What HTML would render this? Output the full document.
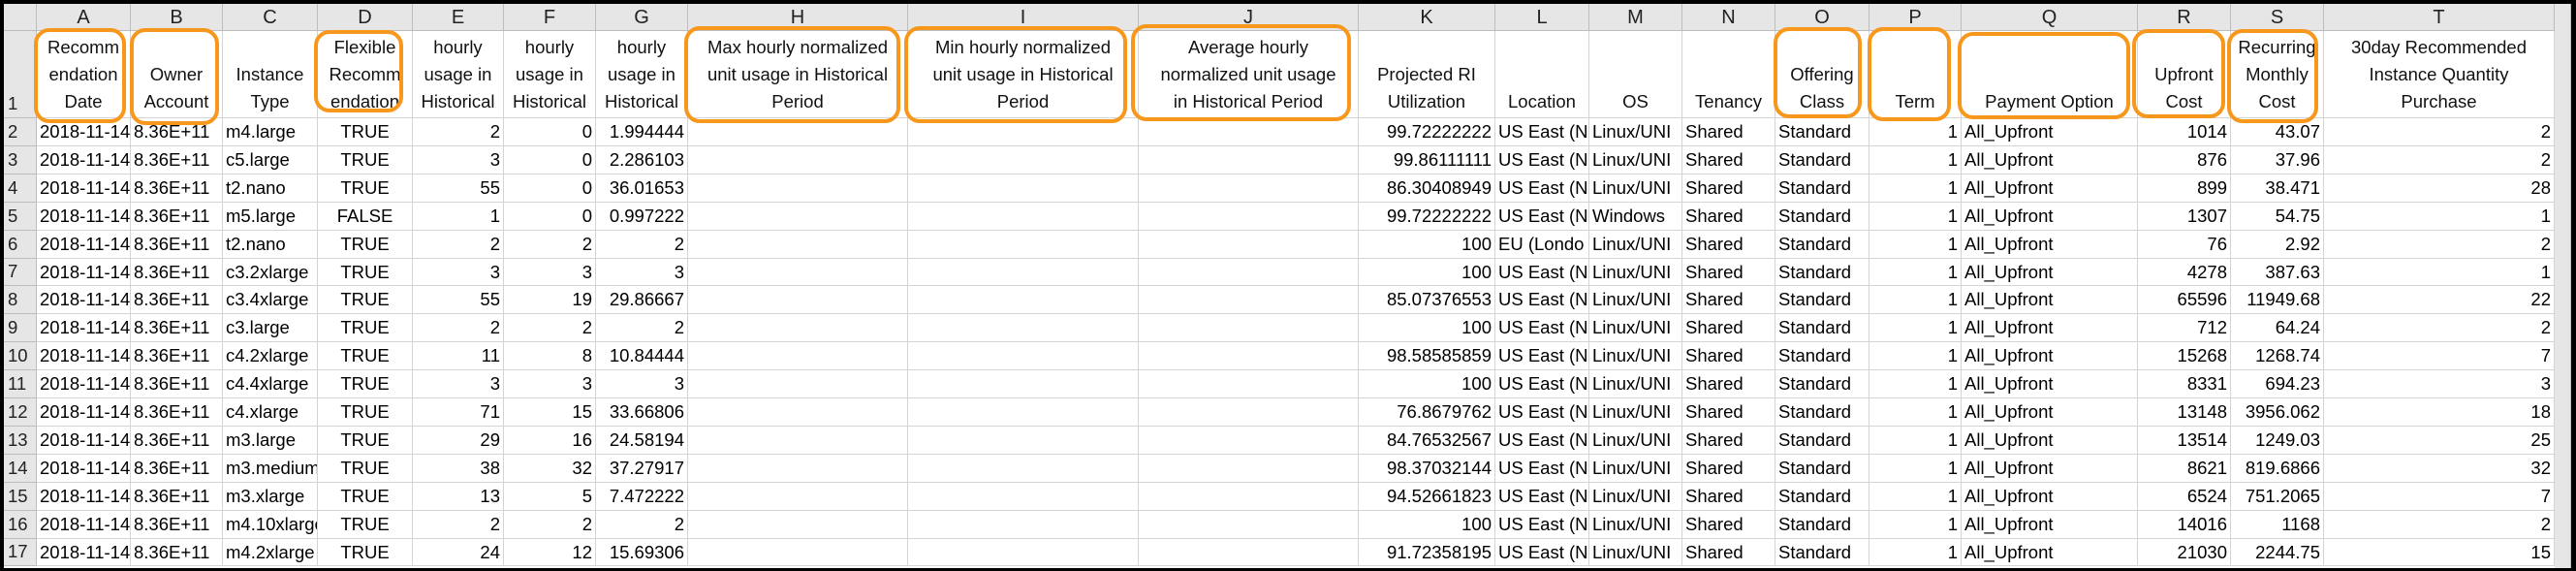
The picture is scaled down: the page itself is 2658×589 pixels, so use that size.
<!DOCTYPE html>
<html><head><meta charset="utf-8"><style>
html,body{margin:0;padding:0;}
body{width:2658px;height:589px;background:#000;position:relative;overflow:hidden;font-family:"Liberation Sans",sans-serif;}
#sheet{position:absolute;left:4px;top:4px;width:2649px;height:582px;background:#fff;overflow:hidden;}
.c{position:absolute;box-sizing:border-box;border-right:1px solid #d4d4d4;border-bottom:1px solid #d4d4d4;font-size:18.5px;color:#000;overflow:hidden;white-space:nowrap;line-height:28px;padding:0 3px;}
.ch{background:#e6e6e6;text-align:center;color:#222;border-color:#bdbdbd;font-size:20px;}
.rh{background:#e6e6e6;color:#222;border-color:#bdbdbd;padding-left:4px;}
.hd{white-space:nowrap;display:flex;align-items:flex-end;justify-content:center;text-align:center;padding-bottom:2px;color:#111;}
.hd span{display:block;}
.box{position:absolute;box-sizing:border-box;border:4px solid #f7981d;border-radius:16px;}
</style></head><body>
<div id="sheet"></div>
<script>
const colLetters=["A","B","C","D","E","F","G","H","I","J","K","L","M","N","O","P","Q","R","S","T"];
const colEdges=[34,131,226,324,422,516,611,706,933,1171,1398,1539,1636,1732,1828,1925,2020,2202,2298,2394,2632];
const colAlign=["left","left","left","center","right","right","right","right","right","right","right","left","left","left","left","right","left","right","right","right"];
const headers=["Recomm|endation|Date","Owner|Account","Instance|Type","Flexible|Recomm|endation","hourly|usage in|Historical","hourly|usage in|Historical","hourly|usage in|Historical","Max hourly normalized|unit usage in Historical|Period","Min hourly normalized|unit usage in Historical|Period","Average hourly|normalized unit usage|in Historical Period","Projected RI|Utilization","Location","OS","Tenancy","Offering|Class","Term","Payment Option","Upfront|Cost","Recurring|Monthly|Cost","30day Recommended|Instance Quantity|Purchase"];
const instTypes=["m4.large","c5.large","t2.nano","m5.large","t2.nano","c3.2xlarge","c3.4xlarge","c3.large","c4.2xlarge","c4.4xlarge","c4.xlarge","m3.large","m3.medium","m3.xlarge","m4.10xlarge","m4.2xlarge"];
const flexible=["TRUE","TRUE","TRUE","FALSE","TRUE","TRUE","TRUE","TRUE","TRUE","TRUE","TRUE","TRUE","TRUE","TRUE","TRUE","TRUE"];
const maxUsage=["2","3","55","1","2","3","55","2","11","3","71","29","38","13","2","24"];
const minUsage=["0","0","0","0","2","3","19","2","8","3","15","16","32","5","2","12"];
const avgUsage=["1.994444","2.286103","36.01653","0.997222","2","3","29.86667","2","10.84444","3","33.66806","24.58194","37.27917","7.472222","2","15.69306"];
const riUtil=["99.72222222","99.86111111","86.30408949","99.72222222","100","100","85.07376553","100","98.58585859","100","76.8679762","84.76532567","98.37032144","94.52661823","100","91.72358195"];
const locations=["US East (N","US East (N","US East (N","US East (N","EU (Londo","US East (N","US East (N","US East (N","US East (N","US East (N","US East (N","US East (N","US East (N","US East (N","US East (N","US East (N"];
const osList=["Linux/UNI","Linux/UNI","Linux/UNI","Windows","Linux/UNI","Linux/UNI","Linux/UNI","Linux/UNI","Linux/UNI","Linux/UNI","Linux/UNI","Linux/UNI","Linux/UNI","Linux/UNI","Linux/UNI","Linux/UNI"];
const upfront=["1014","876","899","1307","76","4278","65596","712","15268","8331","13148","13514","8621","6524","14016","21030"];
const monthly=["43.07","37.96","38.471","54.75","2.92","387.63","11949.68","64.24","1268.74","694.23","3956.062","1249.03","819.6866","751.2065","1168","2244.75"];
const quantity=["2","2","28","1","2","1","22","2","7","3","18","25","32","7","2","15"];
const boxes=[[35,25,95,98],[134,25,92,100],[324,27,92,85],[706,23,223,100],[933,23,230,100],[1167,21,227,100],[1830,24,91,94],[1927,24,86,97],[2020,29,178,90],[2200,26,96,92],[2298,26,94,97]];
const sheet=document.getElementById('sheet');
const HY=28, R1=118, RH=28.9;
function cell(x,y,w,h,cls,txt,align){
  const d=document.createElement('div');
  d.className='c '+cls;
  d.style.left=x+'px';d.style.top=y+'px';d.style.width=w+'px';d.style.height=h+'px';
  if(align)d.style.textAlign=align;
  d.textContent=txt;
  sheet.appendChild(d);return d;
}
let corner=cell(0,0,colEdges[0],HY,'ch','');


colLetters.forEach((L,i)=>{
  const d=cell(colEdges[i],0,colEdges[i+1]-colEdges[i],HY,'ch',L);
  
  
});
let g=cell(colEdges[20],0,2649-colEdges[20],590,'ch','');


function rowHead(n,y,h){
  const d=cell(0,y,colEdges[0],h,'rh',String(n));
  d.style.display='flex';d.style.alignItems='flex-end';
  
  
}
rowHead(1,HY,R1-HY);
headers.forEach((t,i)=>{
  const d=cell(colEdges[i],HY,colEdges[i+1]-colEdges[i],R1-HY,'hd','');
  const s=document.createElement('span');
  t.split('|').forEach((ln,k)=>{ if(k)s.appendChild(document.createElement('br')); s.appendChild(document.createTextNode(ln)); });
  d.appendChild(s);
  
  
});
for(let r=0;r<16;r++){
  const y=Math.round(R1+r*RH), h=Math.round(R1+(r+1)*RH)-y;
  rowHead(r+2,y,h);
  const vals=["2018-11-14","8.36E+11",instTypes[r],flexible[r],maxUsage[r],minUsage[r],avgUsage[r],"","","",riUtil[r],locations[r],osList[r],"Shared","Standard","1","All_Upfront",upfront[r],monthly[r],quantity[r]];
  vals.forEach((v,i)=>{
    const d=cell(colEdges[i],y,colEdges[i+1]-colEdges[i],h,'',v,colAlign[i]);
    
    
  });
}
boxes.forEach((b,i)=>{
  const d=document.createElement('div');
  d.className='box';
  d.style.left=(b[0]-4)+'px';d.style.top=(b[1])+'px';d.style.width=b[2]+'px';d.style.height=b[3]+'px';
  
  
  sheet.appendChild(d);
});
</script>
</body></html>
